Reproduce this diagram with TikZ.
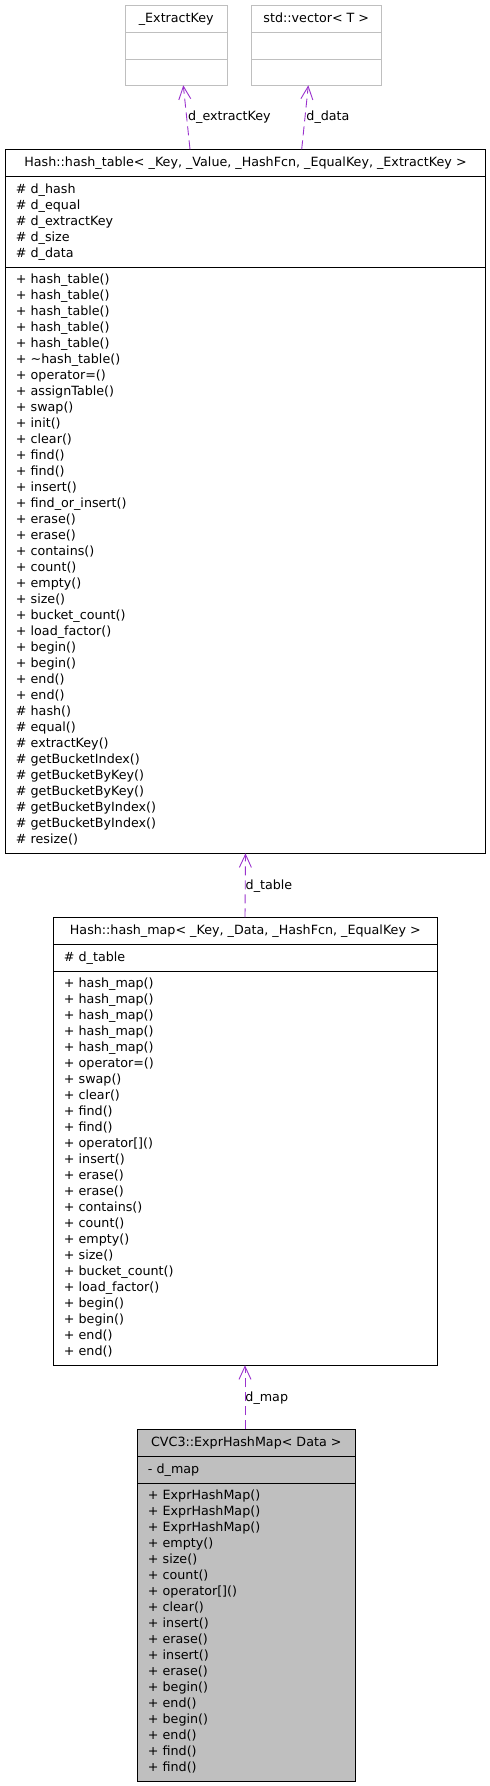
\documentclass[tikz,border=0pt]{standalone}
\usepackage{fontspec}
\setmainfont{DejaVu Sans}
\usepackage{xcolor}
\usetikzlibrary{arrows.meta}
\definecolor{usecol}{HTML}{9A32CD}
\definecolor{greyline}{HTML}{BFBFBF}
\newcommand{\dfont}{\fontsize{12.7}{16}\selectfont}

\begin{document}
\begin{tikzpicture}[x=1pt,y=-1pt,
  cls/.style={draw,line width=0.9pt,inner ysep=0pt,inner xsep=10.5pt,outer sep=0pt,anchor=north,font=\dfont,execute at begin node=\strut,execute at end node=\strut},
  ttl/.style={cls,minimum width=#1,minimum height=27.4pt,align=center},
  lst/.style={cls,text width=#1,align=left},
  uses/.style={usecol,line width=0.9pt,dash pattern=on 9pt off 5pt,-{Straight Barb[length=13pt,width=12pt,line width=0.9pt]}},
  lbl/.style={anchor=west,inner sep=0pt,font=\dfont,text=black}]
\useasboundingbox(0,0)rectangle(490,1786);
\node[ttl=102.7pt,draw=greyline,minimum height=27pt](ek)at(176.3,5.3){\_ExtractKey};
\node[lst=81.7pt,draw=greyline,minimum height=27pt](ekA)at(ek.south){};
\node[lst=81.7pt,draw=greyline,minimum height=26pt](ekB)at(ekA.south){};
\node[ttl=130pt,draw=greyline,minimum height=27pt](sv)at(316.3,5.3){std::vector< T >};
\node[lst=109pt,draw=greyline,minimum height=27pt](svA)at(sv.south){};
\node[lst=109pt,draw=greyline,minimum height=26pt](svB)at(svA.south){};
\node[ttl=480.4pt](ht)at(245.5,149.3){Hash::hash\_table< \_Key, \_Value, \_HashFcn, \_EqualKey, \_ExtractKey >};
\node[lst=459.4pt,minimum height=90.6pt](htA)at(ht.south){\# d\_hash\\\# d\_equal\\\# d\_extractKey\\\# d\_size\\\# d\_data};
\node[lst=459.4pt,minimum height=586pt](htB)at(htA.south){+ hash\_table()\\+ hash\_table()\\+ hash\_table()\\+ hash\_table()\\+ hash\_table()\\+ \textasciitilde hash\_table()\\+ operator=()\\+ assignTable()\\+ swap()\\+ init()\\+ clear()\\+ find()\\+ find()\\+ insert()\\+ find\_or\_insert()\\+ erase()\\+ erase()\\+ contains()\\+ count()\\+ empty()\\+ size()\\+ bucket\_count()\\+ load\_factor()\\+ begin()\\+ begin()\\+ end()\\+ end()\\\# hash()\\\# equal()\\\# extractKey()\\\# getBucketIndex()\\\# getBucketByKey()\\\# getBucketByKey()\\\# getBucketByIndex()\\\# getBucketByIndex()\\\# resize()};
\node[ttl=384pt](hm)at(245.3,917.3){Hash::hash\_map< \_Key, \_Data, \_HashFcn, \_EqualKey >};
\node[lst=363pt,minimum height=26.6pt](hmA)at(hm.south){\# d\_table};
\node[lst=363pt,minimum height=394pt](hmB)at(hmA.south){+ hash\_map()\\+ hash\_map()\\+ hash\_map()\\+ hash\_map()\\+ hash\_map()\\+ operator=()\\+ swap()\\+ clear()\\+ find()\\+ find()\\+ operator[]()\\+ insert()\\+ erase()\\+ erase()\\+ contains()\\+ count()\\+ empty()\\+ size()\\+ bucket\_count()\\+ load\_factor()\\+ begin()\\+ begin()\\+ end()\\+ end()};
\node[ttl=218pt,fill=greyline](eh)at(246.3,1429.3){CVC3::ExprHashMap< Data >};
\node[lst=197pt,fill=greyline,minimum height=27pt](ehA)at(eh.south){- d\_map};
\node[lst=197pt,fill=greyline,minimum height=297.3pt](ehB)at(ehA.south){+ ExprHashMap()\\+ ExprHashMap()\\+ ExprHashMap()\\+ empty()\\+ size()\\+ count()\\+ operator[]()\\+ clear()\\+ insert()\\+ erase()\\+ insert()\\+ erase()\\+ begin()\\+ end()\\+ begin()\\+ end()\\+ find()\\+ find()};
\coordinate(htEk)at([xshift=-55.5pt]ht.north);\coordinate(htSv)at([xshift=56.2pt]ht.north);
\coordinate(ekEnd)at([xshift=7pt]ekB.south);\coordinate(svEnd)at([xshift=-8pt]svB.south);
\draw[uses](htEk)--(ekEnd)node[lbl,pos=0.5,xshift=1pt](lbEk){d\_extractKey};
\draw[uses](htSv)--(svEnd)node[lbl,pos=0.5,xshift=1pt](lbSv){d\_data};
\draw[uses]([xshift=-0.3pt]hm.north)--(htB.south)node[lbl,pos=0.5,yshift=-1pt](lbTable){d\_table};
\draw[uses]([xshift=-1.3pt]eh.north)--([xshift=-0.3pt]hmB.south)node[lbl,pos=0.5,yshift=-1pt](lbMap){d\_map};
\end{tikzpicture}
\end{document}
